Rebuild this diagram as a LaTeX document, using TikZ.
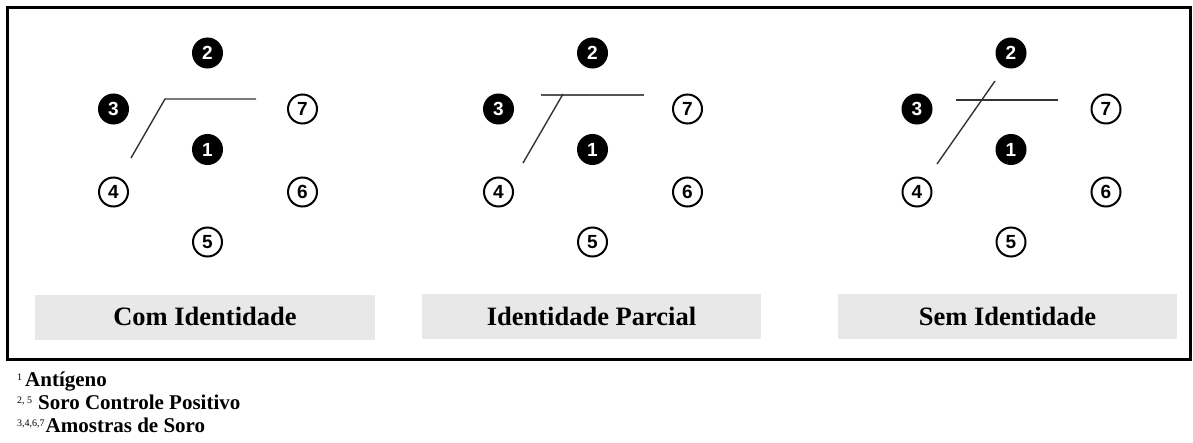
\documentclass[tikz,border=0pt]{standalone}
\usepackage{fontspec}
\setmainfont{Liberation Serif}
\newfontfamily\digitfont{Liberation Sans}
\definecolor{boxgray}{HTML}{E8E8E8}
\definecolor{bandgray}{HTML}{333333}
\definecolor{bandlight}{HTML}{555555}
\begin{document}
\begin{tikzpicture}[x=1pt,y=-1pt,
  well/.style={circle, draw=black, line width=2pt, minimum size=29pt, inner sep=0pt,
    font=\digitfont\bfseries\fontsize{19}{19}\selectfont},
  filledwell/.style={well, fill=black, text=white},
  openwell/.style={well, fill=white, text=black},
  band/.style={draw=bandgray, line width=1.4pt},
  labelbox/.style={fill=boxgray, minimum width=339pt, minimum height=45pt, inner sep=0pt},
  labeltext/.style={anchor=base, inner sep=0pt, font=\bfseries\fontsize{26.5}{26.5}\selectfont},
  legend/.style={anchor=base west, inner sep=0pt, font=\bfseries\fontsize{21}{21}\selectfont},
  sup/.style={anchor=base west, inner sep=0pt, font=\fontsize{10}{10}\selectfont}
]
\useasboundingbox (0,0) rectangle (1193,443);

% outer frame
\draw[line width=3pt] (7.5,7.5) rectangle (1190.5,359);

% well layout of each plate
\foreach \p/\cx in {a/207.5, b/592.5, c/1011} {
  \node[filledwell] (\p2) at (\cx,53) {2};
  \node[filledwell] (\p3) at (\cx-94,109) {3};
  \node[openwell]   (\p7) at (\cx+95,109) {7};
  \node[filledwell] (\p1) at (\cx,149.5) {1};
  \node[openwell]   (\p4) at (\cx-94,192) {4};
  \node[openwell]   (\p6) at (\cx+95,192) {6};
  \node[openwell]   (\p5) at (\cx,242) {5};
}

% precipitation bands: identity
\coordinate (a-d1) at (131,158);
\coordinate (a-k)  at (165,99);
\coordinate (a-h2) at (256,99);
\draw[band] (a-d1) -- (a-k) -- (a-h2);

% precipitation bands: partial identity
\coordinate (b-h1) at (541,95);
\coordinate (b-h2) at (644,95);
\coordinate (b-d1) at (523,163);
\coordinate (b-d2) at (563,94);
\draw[band, draw=bandlight, line width=2.2pt] (b-h1) -- (b-h2);
\draw[band] (b-d1) -- (b-d2);

% precipitation bands: no identity
\coordinate (c-h1) at (956,100);
\coordinate (c-h2) at (1058,100);
\coordinate (c-d1) at (937,164);
\coordinate (c-d2) at (995,81);
\draw[band] (c-h1) -- (c-h2);
\draw[band] (c-d1) -- (c-d2);

% captions
\node[labelbox, minimum width=340pt] (boxa) at (205,317.5) {};
\node[labelbox] (boxb) at (591.5,316.5) {};
\node[labelbox] (boxc) at (1007.5,316.5) {};
\node[labeltext] (capa) at (205,326) {Com Identidade};
\node[labeltext] (capb) at (591.5,325) {Identidade Parcial};
\node[labeltext] (capc) at (1007.5,325) {Sem Identidade};

% legend
\node[sup] (s1) at (17,380.5) {1};
\node[legend] (l1) at (25,386.7) {Antígeno};
\node[sup] (s2) at (17,403) {2, 5};
\node[legend] (l2) at (38,409) {Soro Controle Positivo};
\node[sup] (s3) at (17,426.5) {3,4,6,7};
\node[legend] (l3) at (45.5,432.7) {Amostras de Soro};
\end{tikzpicture}
\end{document}
